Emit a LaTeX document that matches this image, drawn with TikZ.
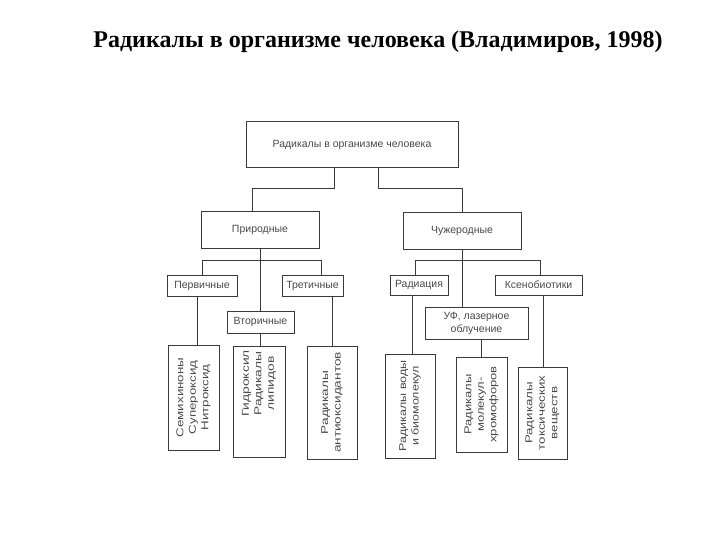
\documentclass[tikz,border=0pt]{standalone}
\usepackage{fontspec}
\usepackage{graphicx}
\setmainfont{Liberation Serif}
\newfontfamily\boxfont{Liberation Sans}
\definecolor{ink}{HTML}{3A3A3A}
\definecolor{txt}{HTML}{4A4A4A}
\begin{document}
\begin{tikzpicture}[x=1pt,y=-1pt,
  bx/.style={draw=ink, line width=1pt, rectangle, inner sep=0pt, align=center,
    text=txt, font=\boxfont\fontsize{10.5}{13}\selectfont},
  vtxt/.style={rectangle, inner sep=0pt, align=center, rotate=90,
    text=txt, font=\boxfont\fontsize{10}{12.5}\selectfont},
  wire/.style={draw=ink, line width=0.9pt},
  ttl/.style={font=\fontsize{24}{28}\selectfont\bfseries, text=black, inner sep=0pt}]
\useasboundingbox (0,0) rectangle (720,540);
\fill[white] (0,0) rectangle (720,540);

\node[ttl, anchor=base] (title) at (378,48) {Радикалы в организме человека (Владимиров, 1998)};

\node[bx, minimum width=212pt, minimum height=46pt] (top) at (352,145) {Радикалы в организме человека};
\node[bx, minimum width=118pt, minimum height=36pt] (nat) at (260,230) {Природные};
\node[bx, minimum width=118pt, minimum height=36pt] (alien) at (462,231) {Чужеродные};

\node[bx, minimum width=70pt, minimum height=21pt] (prim) at (202,285.5) {Первичные};
\node[bx, minimum width=61pt, minimum height=21pt] (ter) at (312.5,285.5) {Третичные};
\node[bx, minimum width=67pt, minimum height=22pt] (sec) at (260.5,322) {Вторичные};

\node[bx, minimum width=58pt, minimum height=20pt] (rad) at (419,285) {Радиация};
\node[bx, minimum width=87pt, minimum height=20pt] (xen) at (538.5,285) {Ксенобиотики};
\node[bx, minimum width=103pt, minimum height=32pt] (uv) at (476.5,323) {УФ, лазерное\\облучение};

\node[bx, minimum width=51pt, minimum height=105pt] (b1) at (193.5,397.5) {};
\node[vtxt] (t1) at (b1) {\scalebox{1.33}[1]{Семихиноны}\\\scalebox{1.33}[1]{Супероксид}\\\scalebox{1.33}[1]{Нитроксид}};
\node[bx, minimum width=52pt, minimum height=111pt] (b2) at (259,401.5) {};
\node[vtxt] (t2) at ([yshift=18pt]b2) {\scalebox{1.38}[1]{Гидроксил}\\\scalebox{1.38}[1]{Радикалы}\\\scalebox{1.38}[1]{липидов}};
\node[bx, minimum width=50pt, minimum height=113pt] (b3) at (332,402.5) {};
\node[vtxt] (t3) at (b3) {\scalebox{1.36}[1]{Радикалы}\\\scalebox{1.36}[1]{антиоксидантов}};

\node[bx, minimum width=50pt, minimum height=104pt] (b4) at (410,406) {};
\node[vtxt] (t4) at (b4) {\scalebox{1.25}[1]{Радикалы воды}\\\scalebox{1.25}[1]{и биомолекул}};
\node[bx, minimum width=51pt, minimum height=95pt] (b5) at (481.5,404.5) {};
\node[vtxt] (t5) at (b5) {\scalebox{1.3}[1]{Радикалы}\\\scalebox{1.3}[1]{молекул-}\\\scalebox{1.3}[1]{хромофоров}};
\node[bx, minimum width=49pt, minimum height=92pt] (b6) at (542.5,413) {};
\node[vtxt] (t6) at (b6) {\scalebox{1.33}[1]{Радикалы}\\\scalebox{1.33}[1]{токсических}\\\scalebox{1.33}[1]{веществ}};

% connectors
\draw[wire] ([xshift=-18pt]top.south) -- ++(0,20) -| ([xshift=-8pt]nat.north);
\draw[wire] ([xshift=26pt]top.south) -- ++(0,20) -| (alien.north);

\draw[wire] (nat.south) -- (nat.south |- sec.north);
\draw[wire] (prim.north) -- ++(0,-14) -| ([xshift=8.5pt]ter.north);

\draw[wire] (alien.south) -- (alien.south |- uv.north);
\draw[wire] ([xshift=-3.3pt]rad.north) -- ++(0,-14) -| ([xshift=1.5pt]xen.north);

\draw[wire] ([xshift=-5pt]prim.south) -- ([xshift=-5pt]prim.south |- b1.north);
\draw[wire] (sec.south) -- (sec.south |- b2.north);
\draw[wire] (b3.north |- ter.south) -- (b3.north);
\draw[wire] ([xshift=-7pt]rad.south) -- ([xshift=-7pt]rad.south |- b4.north);
\draw[wire] (b5.north |- uv.south) -- (b5.north);
\draw[wire] ([xshift=4.5pt]xen.south) -- ([xshift=4.5pt]xen.south |- b6.north);
\end{tikzpicture}
\end{document}
